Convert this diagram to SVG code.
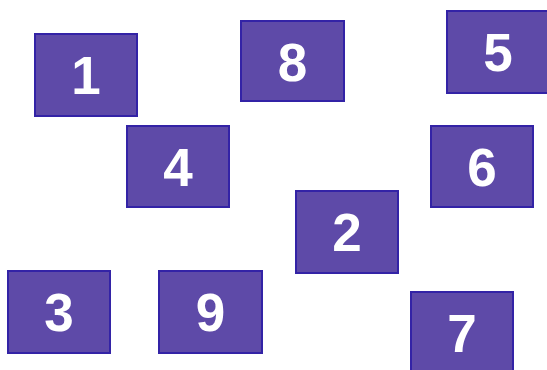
<svg xmlns="http://www.w3.org/2000/svg" width="547" height="370" viewBox="0 0 547 370">
<style>
.box{fill:#5e4aa8;stroke:#3323a6;stroke-width:2}
.lbl{fill:#ffffff;font-family:"Liberation Sans",Arial,sans-serif;font-weight:bold;font-size:53px;text-anchor:middle}
</style>
<rect width="547" height="370" fill="#ffffff"/>
<g id="connectors"></g>
<g id="node1"><rect class="box" x="35" y="34" width="102" height="82"/><text class="lbl" x="86" y="94">1</text></g>
<g id="node8"><rect class="box" x="241" y="21" width="103" height="80"/><text class="lbl" x="292.5" y="80.5">8</text></g>
<g id="node5"><rect class="box" x="447" y="11" width="102" height="82"/><text class="lbl" x="498" y="71">5</text></g>
<g id="node4"><rect class="box" x="127" y="126" width="102" height="81"/><text class="lbl" x="178" y="186">4</text></g>
<g id="node6"><rect class="box" x="431" y="126" width="102" height="81"/><text class="lbl" x="482" y="186">6</text></g>
<g id="node2"><rect class="box" x="296" y="191" width="102" height="82"/><text class="lbl" x="347" y="251">2</text></g>
<g id="node3"><rect class="box" x="8" y="271" width="102" height="82"/><text class="lbl" x="59" y="331">3</text></g>
<g id="node9"><rect class="box" x="159" y="271" width="103" height="82"/><text class="lbl" x="210.5" y="331">9</text></g>
<g id="node7"><rect class="box" x="411" y="292" width="102" height="82"/><text class="lbl" x="462" y="352">7</text></g>
</svg>
